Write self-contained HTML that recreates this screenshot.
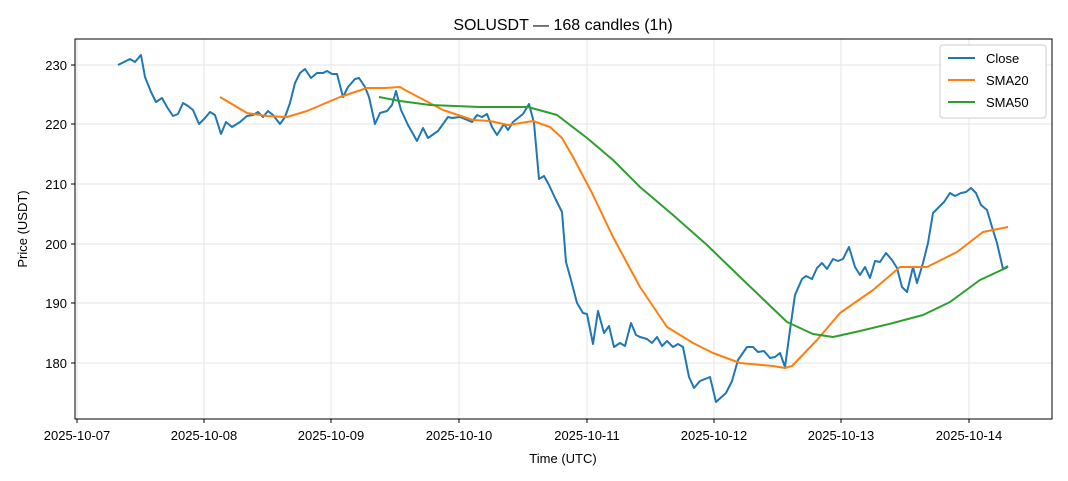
<!DOCTYPE html>
<html><head><meta charset="utf-8"><style>body{margin:0;background:#fff}svg{display:block;font-family:"Liberation Sans","DejaVu Sans",sans-serif}</style></head><body>
<svg width="1068" height="481" xmlns="http://www.w3.org/2000/svg">
<rect width="1068" height="481" fill="#fff"/>
<text x="563" y="30" font-size="16" text-anchor="middle">SOLUSDT — 168 candles (1h)</text>
<g stroke="#e5e5e5" stroke-width="1">
<line x1="77" y1="39" x2="77" y2="419"/><line x1="204" y1="39" x2="204" y2="419"/><line x1="331" y1="39" x2="331" y2="419"/><line x1="459" y1="39" x2="459" y2="419"/><line x1="587" y1="39" x2="587" y2="419"/><line x1="714" y1="39" x2="714" y2="419"/><line x1="841" y1="39" x2="841" y2="419"/><line x1="969" y1="39" x2="969" y2="419"/>
<line x1="75" y1="363" x2="1052" y2="363"/><line x1="75" y1="303" x2="1052" y2="303"/><line x1="75" y1="244" x2="1052" y2="244"/><line x1="75" y1="184" x2="1052" y2="184"/><line x1="75" y1="124" x2="1052" y2="124"/><line x1="75" y1="65" x2="1052" y2="65"/>
</g>
<rect x="75" y="39" width="977" height="380" fill="none" stroke="#000" stroke-width="1"/>
<g stroke="#000"><line x1="77" y1="419" x2="77" y2="423"/><line x1="204" y1="419" x2="204" y2="423"/><line x1="331" y1="419" x2="331" y2="423"/><line x1="459" y1="419" x2="459" y2="423"/><line x1="587" y1="419" x2="587" y2="423"/><line x1="714" y1="419" x2="714" y2="423"/><line x1="841" y1="419" x2="841" y2="423"/><line x1="969" y1="419" x2="969" y2="423"/>
<line x1="71" y1="363" x2="75" y2="363"/><line x1="71" y1="303" x2="75" y2="303"/><line x1="71" y1="244" x2="75" y2="244"/><line x1="71" y1="184" x2="75" y2="184"/><line x1="71" y1="124" x2="75" y2="124"/><line x1="71" y1="65" x2="75" y2="65"/></g>
<g font-size="13" text-anchor="middle"><text x="77" y="440">2025-10-07</text><text x="204" y="440">2025-10-08</text><text x="331" y="440">2025-10-09</text><text x="459" y="440">2025-10-10</text><text x="587" y="440">2025-10-11</text><text x="714" y="440">2025-10-12</text><text x="841" y="440">2025-10-13</text><text x="969" y="440">2025-10-14</text></g>
<g font-size="13" text-anchor="end"><text x="67" y="368">180</text><text x="67" y="308">190</text><text x="67" y="249">200</text><text x="67" y="189">210</text><text x="67" y="129">220</text><text x="67" y="70">230</text></g>
<text x="563" y="463" font-size="13" text-anchor="middle">Time (UTC)</text>
<text x="27" y="229" font-size="13" text-anchor="middle" transform="rotate(-90 27 229)">Price (USDT)</text>
<g fill="none" stroke-width="2" stroke-linejoin="round">
<polyline stroke="#1f77b4" points="118,65 130,59 135,62 141,55 145,77 151,92 156,102 162,98 167,107 173,116 178,114 183,103 188,106 193,110 199,124 205,118 210,112 215,115 221,134 226,122 232,127 240,122 247,116 253,115 258,112 263,117 268,111 273,115 280,124 285,117 290,103 295,83 300,73 305,69 311,78 317,73 323,73 327,71 332,74 337,74 343,97 348,87 355,79 359,78 365,87 369,97 375,124 380,113 387,111 392,105 396,91 401,110 408,125 417,141 423,128 428,138 438,131 448,117 452,118 460,117 472,122 477,115 482,117 487,114 492,127 497,135 504,124 508,130 513,122 523,114 529,104 534,123 539,179 544,176 549,185 555,198 562,212 566,262 571,280 577,303 583,313 587,314 593,344 598,311 604,333 609,326 614,347 620,343 625,346 631,323 636,335 640,337 647,339 652,343 657,337 662,346 667,341 673,347 678,344 683,347 689,377 694,388 700,381 710,377 716,402 726,393 732,381 738,360 747,347 753,347 758,352 764,351 770,358 775,357 780,353 785,367 790,330 795,295 802,279 806,276 812,279 817,268 822,263 827,269 833,259 838,261 843,259 849,247 855,267 860,275 865,267 870,278 875,261 880,262 886,253 892,260 897,268 902,287 907,292 913,267 917,283 923,263 928,243 933,213 938,208 944,202 950,193 955,196 961,193 966,192 971,188 976,193 981,205 987,210 992,227 997,243 1003,269 1008,266"/>
<polyline stroke="#ff7f0e" points="220,97 247,113 267,116 287,117 307,111 340,97 367,88 385,88 400,87 405,90 443,110 473,120 490,121 508,125 533,121 550,127 562,138 573,157 592,193 613,237 640,287 667,327 693,343 713,353 740,363 773,366 785,368 792,366 817,340 840,313 873,290 900,267 927,267 957,252 983,232 1008,227"/>
<polyline stroke="#2ca02c" points="379,97 400,101 430,105 480,107 528,107 557,115 587,138 613,160 640,187 673,215 707,245 740,277 787,322 813,334 833,337 860,331 893,323 923,315 950,302 980,280 1008,267"/>
</g>
<rect x="940" y="45" width="106" height="73" rx="3" fill="#fff" stroke="#ccc"/>
<g stroke-width="2"><line x1="948" y1="58" x2="975" y2="58" stroke="#1f77b4"/><line x1="948" y1="80" x2="975" y2="80" stroke="#ff7f0e"/><line x1="948" y1="102" x2="975" y2="102" stroke="#2ca02c"/></g>
<g font-size="13"><text x="986" y="63">Close</text><text x="986" y="85">SMA20</text><text x="986" y="107">SMA50</text></g>
</svg></body></html>
